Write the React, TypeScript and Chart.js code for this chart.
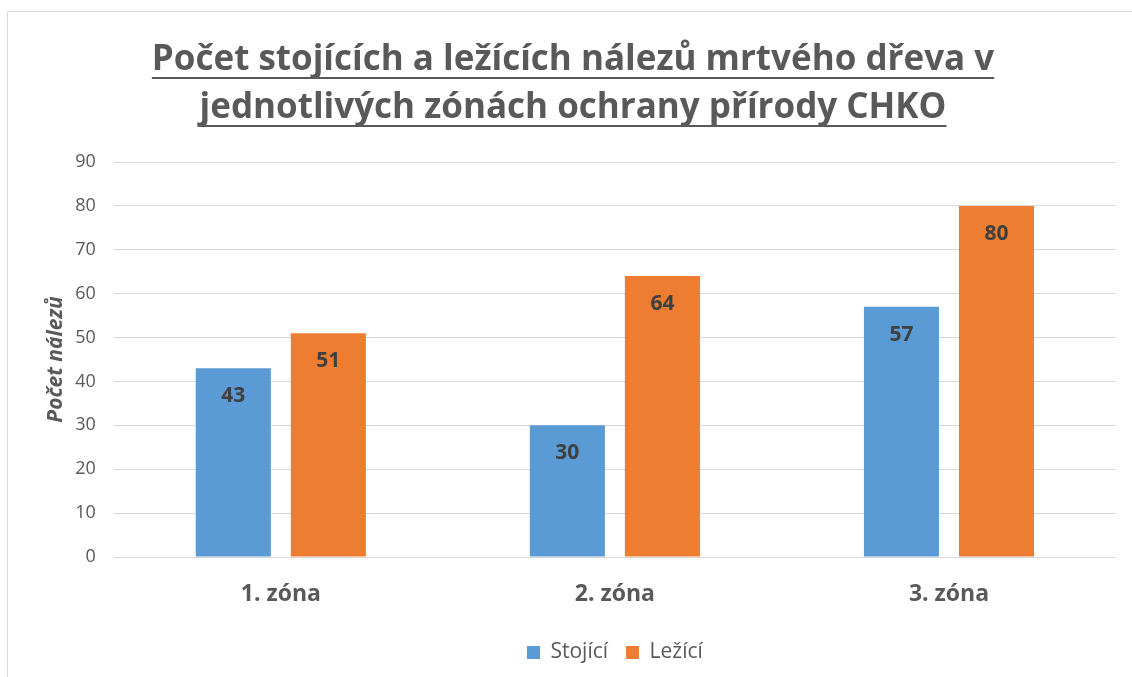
import React, { useEffect, useRef } from "react";
import { Chart, registerables } from "chart.js";

Chart.register(...registerables);

const categories = ["1. zóna", "2. zóna", "3. zóna"];
const standing = [43, 30, 57];
const lying = [51, 64, 80];
const seriesNames = ["Stojící", "Ležící"];
const titleLines = [
  "Počet stojících a ležících nálezů mrtvého dřeva v",
  "jednotlivých zónách ochrany přírody CHKO",
];
const yAxisTitle = "Počet nálezů";

const TEXT = "#595959";
const FONT = "'Open Sans', 'DejaVu Sans', sans-serif";
const TITLE_FONT = "'Open Sans', sans-serif";

const framePlugin = {
  id: "frame",
  beforeDraw(chart: any) {
    const ctx = chart.ctx;
    ctx.save();
    ctx.strokeStyle = "#d9d9d9";
    ctx.lineWidth = 1;
    ctx.beginPath();
    ctx.moveTo(7.5, chart.height);
    ctx.lineTo(7.5, 11.5);
    ctx.lineTo(chart.width, 11.5);
    ctx.stroke();
    ctx.restore();
  },
};

const underlinePlugin = {
  id: "titleUnderline",
  afterDraw(chart: any) {
    const tb = chart.titleBlock;
    if (!tb) return;
    const opts = chart.options.plugins.title;
    const size = opts.font.size;
    const lh = opts.font.lineHeight * size;
    const ctx = chart.ctx;
    ctx.save();
    ctx.font = `${opts.font.weight} ${size}px ${opts.font.family}`;
    ctx.strokeStyle = opts.color;
    ctx.lineWidth = 2;
    const cx = (tb.left + tb.right) / 2;
    const top = tb.top + opts.padding.top;
    titleLines.forEach((line, i) => {
      const w = ctx.measureText(line).width;
      const y = Math.round(top + lh * i + lh / 2 + size * 0.5);
      ctx.beginPath();
      ctx.moveTo(cx - w / 2, y);
      ctx.lineTo(cx + w / 2, y);
      ctx.stroke();
    });
    ctx.restore();
  },
};

const valueLabelPlugin = {
  id: "valueLabels",
  afterDatasetsDraw(chart: any) {
    const ctx = chart.ctx;
    ctx.save();
    ctx.font = `bold 21px ${FONT}`;
    ctx.fillStyle = "#404040";
    ctx.textAlign = "center";
    ctx.textBaseline = "middle";
    chart.data.datasets.forEach((ds: any, di: number) => {
      const meta = chart.getDatasetMeta(di);
      meta.data.forEach((bar: any, i: number) => {
        ctx.fillText(String(ds.data[i]), bar.x, bar.y + 28);
      });
    });
    ctx.restore();
  },
};

export default function App() {
  const ref = useRef<HTMLCanvasElement>(null);
  useEffect(() => {
    if (!ref.current) return;
    const chart = new Chart(ref.current, {
      type: "bar",
      data: {
        labels: categories,
        datasets: [
          {
            label: seriesNames[0],
            data: standing,
            backgroundColor: "#5B9BD5",
            categoryPercentage: 0.569,
            barPercentage: 0.79,
          },
          {
            label: seriesNames[1],
            data: lying,
            backgroundColor: "#ED7D31",
            categoryPercentage: 0.569,
            barPercentage: 0.79,
          },
        ],
      },
      options: {
        responsive: false,
        animation: false,
        devicePixelRatio: 1,
        layout: { padding: { left: 30, right: 16, top: 36, bottom: 4 } },
        plugins: {
          title: {
            display: true,
            text: titleLines,
            color: TEXT,
            font: { family: TITLE_FONT, size: 35, weight: "bold", lineHeight: 48 / 35 },
            padding: { top: 0, bottom: 30 },
          },
          legend: {
            position: "bottom",
            fullSize: false,
            labels: {
              color: TEXT,
              font: { family: FONT, size: 21 },
              boxWidth: 13,
              boxHeight: 13,
              padding: 18,
            },
          },
          tooltip: { enabled: false },
        },
        scales: {
          x: {
            grid: { display: false, drawTicks: false },
            border: { display: false },
            ticks: {
              color: TEXT,
              font: { family: FONT, size: 23, weight: "bold" },
              padding: 24,
            },
            afterFit: (scale: any) => {
              scale.height = 67;
            },
          },
          y: {
            min: 0,
            max: 90,
            grid: { color: "#d9d9d9", drawTicks: false, lineWidth: 1 },
            border: { display: false },
            ticks: {
              stepSize: 10,
              color: TEXT,
              font: { family: FONT, size: 18 },
              padding: 18,
            },
            title: {
              display: true,
              text: yAxisTitle,
              color: TEXT,
              font: { family: FONT, size: 21, weight: "bold", style: "italic" },
              padding: { top: 13, bottom: -11 },
            },
          },
        },
      },
      plugins: [framePlugin, underlinePlugin, valueLabelPlugin],
    });
    return () => chart.destroy();
  }, []);
  return (
    <div style={{ position: "fixed", left: 0, top: 0, width: 1132, height: 677, background: "#fff" }}>
      <canvas ref={ref} width={1132} height={677} />
    </div>
  );
}
